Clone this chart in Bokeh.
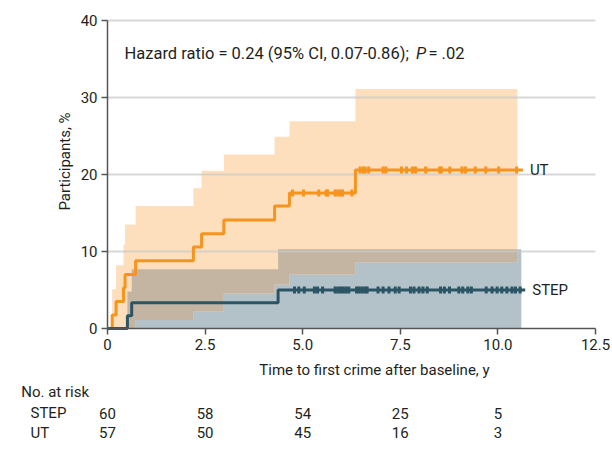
import numpy as np
from bokeh.plotting import figure
from bokeh.models import Range1d, FixedTicker
from bokeh.core.properties import value
from bokeh.embed import file_html
from bokeh.resources import INLINE

FONT = "Roboto"
TXT = "#231f20"

# ---- data ----
ut_times = [0, 0.12, 0.22, 0.41, 0.45, 0.72, 2.20, 2.41, 2.98, 4.28, 4.66, 6.35]
ut_pct = [0, 1.75, 3.5, 5.3, 7.0, 8.8, 10.6, 12.3, 14.1, 15.9, 17.6, 20.6]
ut_end = 10.64
ut_lower = [0, 0, 0, 0, 0, 1.1, 2.2, 2.2, 4.55, 5.7, 7.0, 8.6]
ut_upper = [0, 5.1, 8.2, 10.9, 13.5, 15.9, 18.2, 20.5, 22.6, 24.9, 26.9, 31.1]
ut_band_end = 10.50

step_times = [0, 0.51, 0.62, 4.37]
step_pct = [0, 1.65, 3.35, 5.0]
step_end = 10.70
step_lower = [0, 0, 0, 0]
step_upper = [0, 4.8, 7.7, 10.3]
step_band_end = 10.60

ut_censor = [4.74, 5.02, 5.41, 5.60, 5.64, 5.83, 5.90, 5.97, 6.02, 6.26,
             6.47, 6.55, 6.60, 6.69, 7.06, 7.13, 7.53, 7.66, 7.81, 7.89,
             8.15, 8.51, 8.55, 8.77, 9.08, 9.17, 9.42, 9.69, 10.02, 10.48]
step_censor = [4.79, 4.90, 5.04, 5.30, 5.38, 5.51, 5.83, 5.90, 5.97, 6.04,
               6.11, 6.18, 6.38, 6.45, 6.52, 6.59, 6.65, 6.93, 7.06, 7.21,
               7.37, 7.47, 7.76, 7.85, 7.98, 8.08, 8.19, 8.53, 8.63, 8.76,
               9.00, 9.10, 9.23, 9.32, 9.70, 9.85, 9.98, 10.10, 10.23, 10.36,
               10.45, 10.57]

risk_times = [0, 2.5, 5.0, 7.5, 10.0]
step_risk = [60, 58, 54, 25, 5]
ut_risk = [57, 50, 45, 16, 3]

x_ticks = [0, 2.5, 5.0, 7.5, 10.0, 12.5]
x_tick_labels = ["0", "2.5", "5.0", "7.5", "10.0", "12.5"]
y_ticks = [0, 10, 20, 30, 40]

C_UT = "#f7941d"
C_UT_BAND = "#fddfbe"
C_STEP = "#2b5565"
C_STEP_BAND = "#b3c2c9"
C_OVER = "#c4b5a2"
C_GRID = "#c8c8c8"


def step_eval(times, vals, t):
    idx = np.searchsorted(np.asarray(times), np.asarray(t), side="right") - 1
    return np.asarray(vals)[np.clip(idx, 0, len(vals) - 1)]


# ---- layout: frame fills the canvas, axes sit at fixed data locations ----
W, H = 610, 454
PX0, PX1 = 107.0, 595.0      # pixel columns of x = 0 and x = 12.5
PY0, PY1 = 328.0, 20.0       # pixel rows of y = 0 and y = 40
X_MAX, Y_MAX = x_ticks[-1], y_ticks[-1]
ppx = (PX1 - PX0) / X_MAX
ppy = (PY0 - PY1) / Y_MAX
xr = Range1d(-PX0 / ppx, (W - PX0) / ppx)
yr = Range1d(-(H - PY0) / ppy, PY0 / ppy)

p = figure(width=W, height=H, x_range=xr, y_range=yr,
           output_backend="svg", toolbar_location=None,
           min_border=0, min_border_left=0, min_border_right=0,
           min_border_top=0, min_border_bottom=0)
p.outline_line_color = None
p.background_fill_color = "white"
p.grid.grid_line_color = None


def band_xy(times, lo, hi, end):
    x = list(times) + [end]
    return x, list(lo) + [lo[-1]], list(hi) + [hi[-1]]


sx, sl, sh = band_xy(step_times, step_lower, step_upper, step_band_end)
p.varea_step(x=sx, y1=sl, y2=sh, step_mode="after", fill_color=C_STEP_BAND)
ux, ul, uh = band_xy(ut_times, ut_lower, ut_upper, ut_band_end)
p.varea_step(x=ux, y1=ul, y2=uh, step_mode="after", fill_color=C_UT_BAND)

ov_end = min(ut_band_end, step_band_end)
bx = np.unique(np.concatenate([ut_times, step_times, [ov_end]]))
bx = bx[bx <= ov_end]
olo = np.maximum(step_eval(ut_times, ut_lower, bx), step_eval(step_times, step_lower, bx))
ohi = np.minimum(step_eval(ut_times, ut_upper, bx), step_eval(step_times, step_upper, bx))
ohi = np.maximum(ohi, olo)
p.varea_step(x=bx, y1=olo, y2=ohi, step_mode="after", fill_color=C_OVER)

# horizontal grid lines over the bands, limited to the axis extent
gy = y_ticks[1:]
p.segment(x0=[x_ticks[0]] * len(gy), x1=[X_MAX] * len(gy), y0=gy, y1=gy,
          line_color=C_GRID, line_alpha=0.7, line_width=2)

p.step(x=list(ut_times) + [ut_end], y=list(ut_pct) + [ut_pct[-1]], mode="after",
       line_color=C_UT, line_width=3)
p.step(x=list(step_times) + [step_end], y=list(step_pct) + [step_pct[-1]], mode="after",
       line_color=C_STEP, line_width=3)

p.rect(x=ut_censor, y=step_eval(ut_times, ut_pct, ut_censor), width=3, height=7,
       width_units="screen", height_units="screen", fill_color=C_UT, line_color=None)
p.rect(x=step_censor, y=step_eval(step_times, step_pct, step_censor), width=3, height=7,
       width_units="screen", height_units="screen", fill_color=C_STEP, line_color=None)


def txt(xs, ys, texts, align="left", size="15px", style="normal", angle=0.0, x_offset=0):
    p.text(x=xs, y=ys, text=texts, text_align=align, text_baseline="middle",
           text_font=value(FONT), text_font_size=size, text_font_style=style,
           text_color=TXT, angle=angle, x_offset=x_offset)


txt([ut_end, step_end], [ut_pct[-1], step_pct[-1]], ["UT", "STEP"], x_offset=7)

# hazard ratio annotation
txt([7.72], [35.7], ["Hazard ratio = 0.24 (95% CI, 0.07-0.86);"], align="right", size="16.5px")
txt([7.90], [35.7], ["P"], size="16.5px", style="italic")
txt([8.22], [35.7], ["= .02"], size="16.5px")

# axis titles
txt([(64 - PX0) / ppx], [(PY0 - 161) / ppy], ["Participants, %"], align="center", angle=np.pi / 2)
txt([(374 - PX0) / ppx], [(PY0 - 369) / ppy], ["Time to first crime after baseline, y"], align="center")

# risk table
ry_head = (PY0 - 391.7) / ppy
ry_step = (PY0 - 412.7) / ppy
ry_ut = (PY0 - 432.3) / ppy
txt([(20.7 - PX0) / ppx], [ry_head], ["No. at risk"])
txt([(30 - PX0) / ppx] * 2, [ry_step, ry_ut], ["STEP", "UT"])
txt(risk_times, [ry_step] * len(risk_times), [str(v) for v in step_risk], align="center")
txt(risk_times, [ry_ut] * len(risk_times), [str(v) for v in ut_risk], align="center")

# axes at fixed data locations
p.xaxis.fixed_location = 0
p.yaxis.fixed_location = 0
p.xaxis.bounds = (x_ticks[0], X_MAX)
p.yaxis.bounds = (y_ticks[0], Y_MAX)
p.xaxis.ticker = FixedTicker(ticks=x_ticks)
p.xaxis.major_label_overrides = {t: l for t, l in zip(x_ticks, x_tick_labels)}
p.yaxis.ticker = FixedTicker(ticks=y_ticks)
for ax in (p.xaxis, p.yaxis):
    ax.axis_line_color = "#555555"
    ax.axis_line_width = 1.5
    ax.major_tick_line_color = "#555555"
    ax.major_tick_line_width = 1.5
    ax.major_tick_out = 6
    ax.major_tick_in = 0
    ax.minor_tick_line_color = None
    ax.major_label_text_font = FONT
    ax.major_label_text_font_size = "15px"
    ax.major_label_text_color = TXT
p.xaxis.major_label_standoff = 4
p.yaxis.major_label_standoff = 4

open("out.html", "w").write(file_html(p, INLINE))
